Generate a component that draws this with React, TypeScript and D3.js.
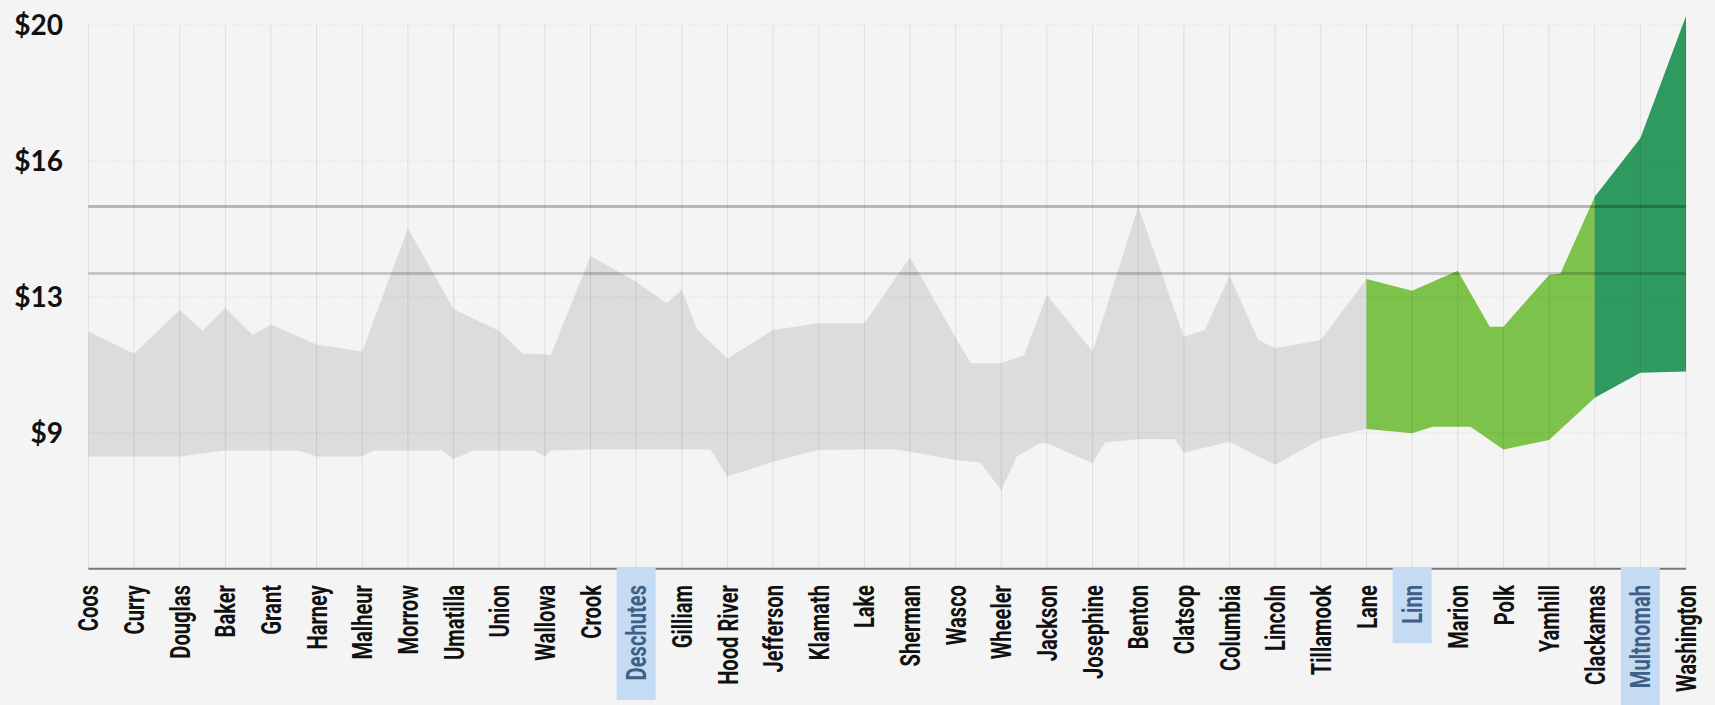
import React, { useEffect, useRef } from 'react';
import * as d3 from 'd3';

const counties = [
  'Coos', 'Curry', 'Douglas', 'Baker', 'Grant', 'Harney', 'Malheur', 'Morrow', 'Umatilla',
  'Union', 'Wallowa', 'Crook', 'Deschutes', 'Gilliam', 'Hood River', 'Jefferson', 'Klamath',
  'Lake', 'Sherman', 'Wasco', 'Wheeler', 'Jackson', 'Josephine', 'Benton', 'Clatsop',
  'Columbia', 'Lincoln', 'Tillamook', 'Lane', 'Linn', 'Marion', 'Polk', 'Yamhill',
  'Clackamas', 'Multnomah', 'Washington',
];

const highlighted = ['Deschutes', 'Linn', 'Multnomah'];

// upper and lower edge of the wage band for each county
const upperWage = [
  11.88, 11.29, 12.45, 12.51, 12.07, 11.54, 11.35, 14.62, 12.47, 11.9, 11.28, 13.88, 13.2,
  12.98, 11.17, 11.92, 12.1, 12.1, 13.85, 11.72, 11.04, 12.85, 11.35, 15.2, 11.74, 13.36,
  11.44, 11.66, 13.27, 12.96, 13.49, 12.01, 13.38, 15.45, 17.0, 20.24,
];
const lowerWage = [
  8.57, 8.57, 8.57, 8.73, 8.73, 8.57, 8.57, 8.73, 8.5, 8.73, 8.58, 8.76, 8.76, 8.76, 8.04,
  8.43, 8.75, 8.76, 8.7, 8.48, 7.68, 8.92, 8.39, 9.03, 8.67, 8.96, 8.35, 9.03, 9.3, 9.19,
  9.36, 8.76, 9.01, 10.13, 10.79, 10.82,
];

// extra vertices of the band between counties: [position in county steps, wage]
const upperBetween: [number, number][] = [
  [2.5, 11.9], [3.6, 11.79], [9.5, 11.3], [10.13, 11.26], [12.67, 12.63], [13.34, 11.92],
  [19.33, 11.04], [20.5, 11.26], [24.46, 11.92], [25.63, 11.66], [30.7, 12.01], [32.25, 13.42],
];
const lowerBetween: [number, number][] = [
  [4.6, 8.73], [6.24, 8.73], [7.75, 8.73], [8.42, 8.73], [9.76, 8.73], [10.13, 8.73],
  [13.63, 8.76], [17.66, 8.76], [19.54, 8.41], [20.34, 8.57], [20.84, 8.92], [22.27, 8.94],
  [23.8, 9.03], [29.45, 9.36], [30.28, 9.36],
];

// band segments (county index ranges) and their colours
const segmentStart = [0, 28, 33];
const segmentEnd = [28, 33, 35];
const segmentColors = ['#dcdcdc', '#7dc24b', '#2e9a5f'];

const yTickValues = [9.2, 12.8, 16.4, 20];
const referenceWages = [15.19, 13.42];
const referenceColors = ['rgba(0,0,0,0.25)', 'rgba(0,0,0,0.19)'];

const W = 1715;
const H = 705;

export default function App() {
  const ref = useRef<SVGSVGElement>(null);

  useEffect(() => {
    document.body.style.margin = '0';
    document.body.style.background = '#f4f4f4';
    const svg = d3.select(ref.current);
    svg.selectAll('*').remove();

    const left = 88.4;
    const right = 1686;
    const top = 25;
    const bottom = 568.7;
    const n = counties.length;

    const x = d3.scalePoint<string>().domain(counties).range([left, right]);
    const xi = d3.scaleLinear().domain([0, n - 1]).range([left, right]);
    const y = d3.scaleLinear().domain([5.6, 20]).range([bottom, top]);

    svg.append('rect').attr('width', W).attr('height', H).attr('fill', '#f4f4f4');

    const upperPts: [number, number][] = upperWage
      .map((v, i) => [i, v] as [number, number])
      .concat(upperBetween)
      .sort((a, b) => a[0] - b[0]);
    const lowerPts: [number, number][] = lowerWage
      .map((v, i) => [i, v] as [number, number])
      .concat(lowerBetween)
      .sort((a, b) => a[0] - b[0]);

    const line = d3
      .line<[number, number]>()
      .x((d) => xi(d[0]))
      .y((d) => y(d[1]));

    segmentStart.forEach((s, k) => {
      const e = segmentEnd[k];
      const up = upperPts.filter((p) => p[0] >= s && p[0] <= e);
      const lo = lowerPts.filter((p) => p[0] >= s && p[0] <= e).reverse();
      svg
        .append('path')
        .attr('d', line(up.concat(lo)) + 'Z')
        .attr('fill', segmentColors[k]);
    });

    // horizontal dotted grid
    svg
      .append('g')
      .selectAll('line')
      .data(yTickValues)
      .join('line')
      .attr('x1', left)
      .attr('x2', right)
      .attr('y1', (d) => y(d))
      .attr('y2', (d) => y(d))
      .attr('stroke', 'rgba(0,0,0,0.1)')
      .attr('stroke-width', 1)
      .attr('stroke-dasharray', '1,2');

    // vertical grid
    svg
      .append('g')
      .selectAll('line')
      .data(counties)
      .join('line')
      .attr('x1', (d) => x(d)!)
      .attr('x2', (d) => x(d)!)
      .attr('y1', top)
      .attr('y2', bottom)
      .attr('stroke', 'rgba(0,0,0,0.09)')
      .attr('stroke-width', 1);

    // reference lines
    svg
      .append('g')
      .selectAll('line')
      .data(referenceWages)
      .join('line')
      .attr('x1', left)
      .attr('x2', right)
      .attr('y1', (d) => y(d))
      .attr('y2', (d) => y(d))
      .attr('stroke', (_d, i) => referenceColors[i])
      .attr('stroke-width', 3);

    // axis line
    svg
      .append('line')
      .attr('x1', left)
      .attr('x2', right)
      .attr('y1', bottom)
      .attr('y2', bottom)
      .attr('stroke', '#777')
      .attr('stroke-width', 2);

    // y labels
    svg
      .append('g')
      .selectAll('text')
      .data(yTickValues)
      .join('text')
      .attr('x', 63)
      .attr('y', (d) => y(d))
      .attr('dy', '0.36em')
      .attr('text-anchor', 'end')
      .attr('font-family', 'Lato, "Open Sans", sans-serif')
      .attr('font-size', 28)
      .attr('font-weight', 700)
      .attr('fill', '#111')
      .text((d) => '$' + d3.format('.0f')(d));

    // x labels
    const labelTop = 585;
    const squeeze = 0.72;
    const lg = svg.append('g');
    counties.forEach((c) => {
      const cx = x(c)!;
      const hl = highlighted.includes(c);
      const box = hl ? lg.append('rect') : null;
      const t = lg
        .append('text')
        .attr('transform', `translate(${cx},${labelTop}) rotate(-90) scale(${squeeze},1)`)
        .attr('text-anchor', 'end')
        .attr('dy', '0.36em')
        .attr('font-family', 'Roboto, "Liberation Sans", sans-serif')
        .attr('font-size', 28)
        .attr('font-weight', 700)
        .attr('fill', hl ? '#3d5f88' : '#111')
        .text(c);
      if (box) {
        const len = (t.node() as SVGTextElement).getComputedTextLength() * squeeze;
        box
          .attr('x', cx - 19.5)
          .attr('y', bottom - 1.5)
          .attr('width', 39)
          .attr('height', labelTop - bottom + len + 21)
          .attr('fill', '#c5dbf4');
      }
    });
  }, []);

  return <svg ref={ref} width={W} height={H} style={{ display: 'block' }} />;
}
